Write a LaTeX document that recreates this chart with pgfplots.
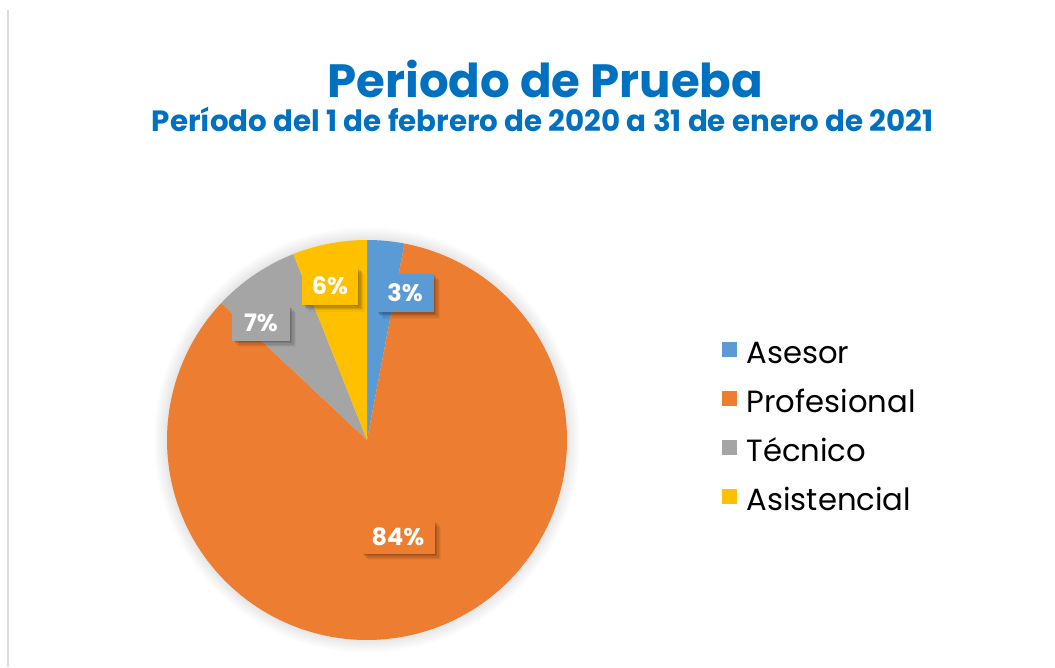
\documentclass[border=0pt]{standalone}
\usepackage{pgfplots}
\pgfplotsset{compat=1.18}
\usepgfplotslibrary{polar}
\usetikzlibrary{shadows}
\usepackage{fontspec}
\setmainfont{Poppins}
\definecolor{cA}{HTML}{5B9BD5}
\definecolor{cB}{HTML}{ED7D31}
\definecolor{cC}{HTML}{A5A5A5}
\definecolor{cD}{HTML}{FFC000}
\definecolor{ttl}{HTML}{0070C0}
% values (percent)
\def\vA{3}\def\vB{84}\def\vC{7}\def\vD{6}
\pgfmathsetmacro{\aA}{90}
\pgfmathsetmacro{\aB}{90-\vA*3.6}
\pgfmathsetmacro{\aC}{\aB-\vB*3.6}
\pgfmathsetmacro{\aD}{\aC-\vC*3.6}
\pgfmathsetmacro{\aE}{\aD-\vD*3.6}
\tikzset{lbl/.style={text=white, font=\fontsize{18}{20}\selectfont\bfseries, inner sep=0pt,
     minimum width=43pt, minimum height=29pt,
     drop shadow={shadow xshift=1pt, shadow yshift=-1pt, opacity=0.10, fill=black},
     drop shadow={shadow xshift=2pt, shadow yshift=-2pt, opacity=0.10, fill=black},
     drop shadow={shadow xshift=3pt, shadow yshift=-3pt, opacity=0.08, fill=black},
     drop shadow={shadow xshift=4pt, shadow yshift=-4pt, opacity=0.06, fill=black},
     drop shadow={shadow xshift=5pt, shadow yshift=-5pt, opacity=0.04, fill=black}}}
\begin{document}
\begin{tikzpicture}
\path[use as bounding box] (0,0) rectangle (791.25pt,500.25pt);
\fill[white] (0,0) rectangle (791.25pt,500.25pt);
\draw[color=black!15, line width=1.5pt] (6pt,0) -- (6pt,493pt);
% soft outer shadow of pie
\foreach \k in {1,...,8}{
  \fill[black, opacity=0.012] (275.25pt,170.25pt) circle (150pt+\k*1.2pt);
}
\node[font=\fontsize{35}{40}\selectfont\bfseries, text=ttl, anchor=base] at (409pt,427pt) {Periodo de Prueba};
\node[font=\fontsize{22}{24}\selectfont\bfseries, text=ttl, anchor=base] at (407pt,401.5pt) {Período del 1 de febrero de 2020 a 31 de enero de 2021};
\begin{polaraxis}[
  at={(275.25pt,170.25pt)}, anchor=center,
  width=300pt, height=300pt, scale only axis,
  hide axis, clip=false,
  xmin=0, xmax=360, ymin=0, ymax=1,
  legend cell align=left,
  legend style={at={(1.3875,0.745)}, anchor=north west, draw=none, fill=none,
    inner sep=0pt, row sep=16.5pt,
    font=\fontsize{23}{26}\selectfont,
    nodes={inner sep=0pt, text height=14pt, text depth=4pt},
    /tikz/every odd column/.append style={column sep=7pt}},
  legend image code/.code={\fill[#1,draw=none] (0pt,0pt) rectangle (11.25pt,11.25pt);},
]
\addplot[fill=cA, draw=none, domain=\aB:\aA, samples=20] {1} -- (axis cs:0,0) -- cycle;
\addlegendentry{Asesor}
\addplot[fill=cB, draw=none, domain=\aC:\aB, samples=200] {1} -- (axis cs:0,0) -- cycle;
\addlegendentry{Profesional}
\addplot[fill=cC, draw=none, domain=\aD:\aC, samples=20] {1} -- (axis cs:0,0) -- cycle;
\addlegendentry{Técnico}
\addplot[fill=cD, draw=none, domain=\aE:\aD, samples=20] {1} -- (axis cs:0,0) -- cycle;
\addlegendentry{Asistencial}
\node[lbl, fill=cA] at (axis cs:75.5,0.759) {3\%};
\node[lbl, fill=cD, minimum width=42pt, minimum height=28.5pt] at (axis cs:103.5,0.792) {6\%};
\node[lbl, fill=cC, minimum height=26.5pt] at (axis cs:132.2,0.79) {7\%};
\node[lbl, fill=cB, minimum width=55pt, minimum height=25pt] at (axis cs:-72.3,0.509) {84\%};
\end{polaraxis}
\end{tikzpicture}
\end{document}
